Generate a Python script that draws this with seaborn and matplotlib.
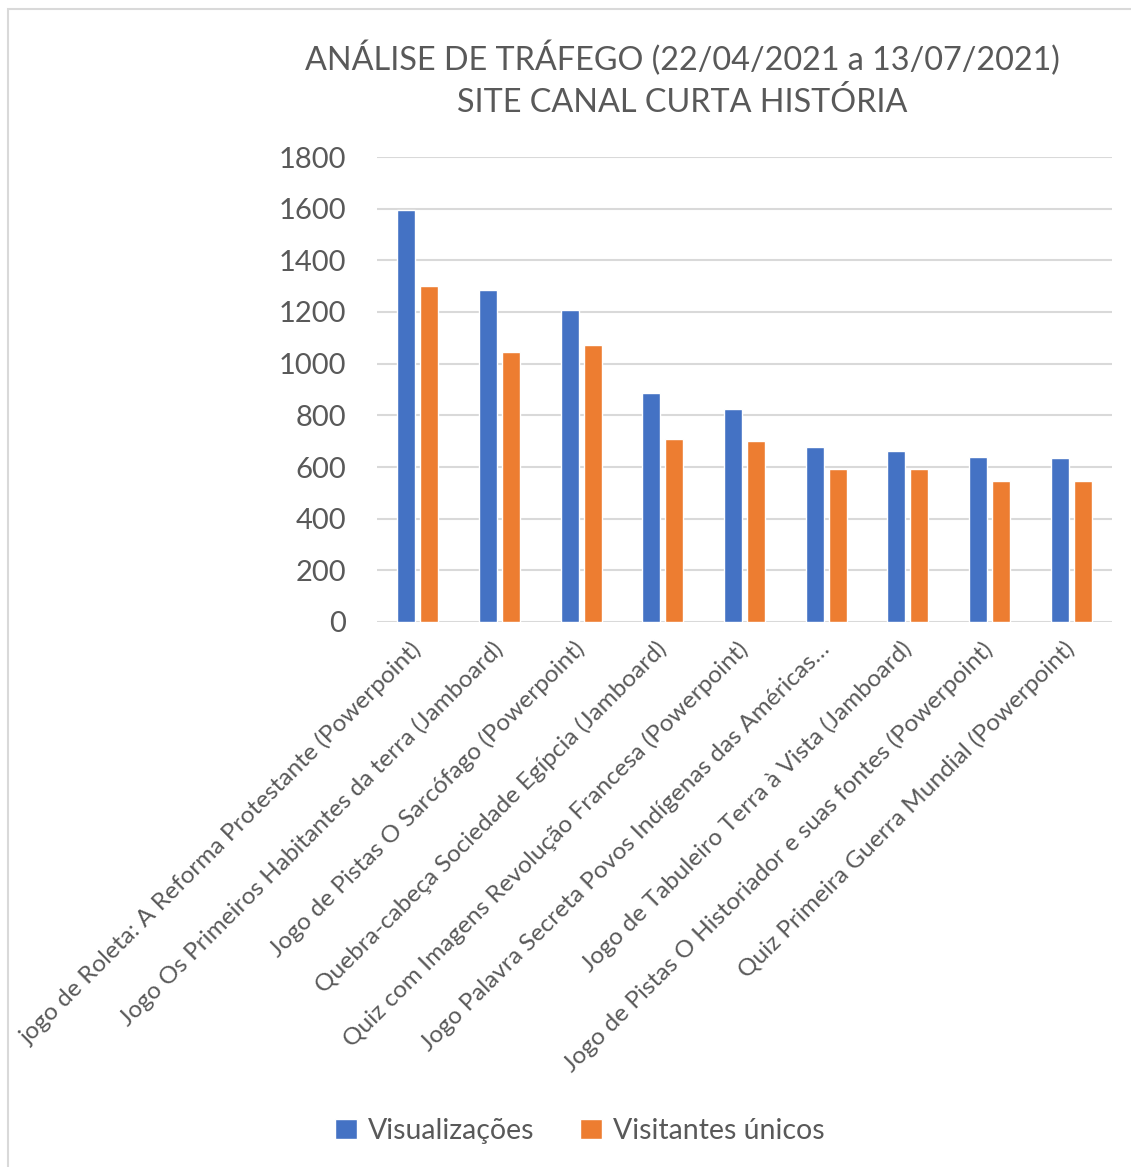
import matplotlib.pyplot as plt
import seaborn as sns
import pandas as pd
from matplotlib.patches import Rectangle

W, H = 1131, 1167

categories = [
    "jogo de Roleta: A Reforma Protestante (Powerpoint)",
    "Jogo Os Primeiros Habitantes da terra (Jamboard)",
    "Jogo de Pistas O Sarcófago (Powerpoint)",
    "Quebra-cabeça Sociedade Egípcia (Jamboard)",
    "Quiz com Imagens Revolução Francesa (Powerpoint)",
    "Jogo Palavra Secreta Povos Indígenas das Américas…",
    "Jogo de Tabuleiro Terra à Vista (Jamboard)",
    "Jogo de Pistas O Historiador e suas fontes (Powerpoint)",
    "Quiz Primeira Guerra Mundial (Powerpoint)",
]
visualizacoes = [1593, 1287, 1207, 887, 823, 679, 663, 640, 635]
visitantes = [1300, 1046, 1073, 710, 702, 593, 593, 544, 545]
series = ["Visualizações", "Visitantes únicos"]
colors = ["#4472C4", "#ED7D31"]
yticks = [0, 200, 400, 600, 800, 1000, 1200, 1400, 1600, 1800]

df = pd.DataFrame({"cat": categories, series[0]: visualizacoes, series[1]: visitantes})
df = df.melt(id_vars="cat", var_name="serie", value_name="valor")

sns.set_theme(style="white")
plt.rcParams['font.family'] = ['Lato', 'DejaVu Sans']
txt = "#595959"

fig = plt.figure(figsize=(W / 100, H / 100), dpi=100)
ax = fig.add_axes([377 / W, 1 - 622 / H, 735 / W, (622 - 157) / H])

sns.barplot(data=df, x="cat", y="valor", hue="serie", palette=colors,
            width=0.56, gap=0.21, ax=ax, legend=True, saturation=1)

ax.set_ylim(0, 1800)
ax.set_yticks(yticks)
ax.set_xlim(-0.5, len(categories) - 0.5)
ax.yaxis.grid(True, color="#D9D9D9", linewidth=1.5)
ax.set_axisbelow(True)
for s in ax.spines.values():
    s.set_visible(False)
ax.set_xlabel("")
ax.set_ylabel("")
ax.tick_params(axis="y", length=0, pad=22, labelsize=21, labelcolor=txt)
ax.tick_params(axis="x", length=0, pad=17, labelcolor=txt)
ax.set_xticks(range(len(categories)))
ax.set_xticklabels(categories, rotation=45, ha="right", va="center",
                   rotation_mode="anchor", fontsize=17.6, color=txt)

handles, labels = ax.get_legend_handles_labels()
ax.get_legend().remove()
fig.legend(handles, labels, loc="center", bbox_to_anchor=(580 / W, 1 - 1131 / H),
           ncol=2, frameon=False, fontsize=20.5, labelcolor=txt,
           handlelength=0.75, handleheight=0.75, handletextpad=0.4, columnspacing=1.6)

fig.text(682 / W, 1 - 58 / H, "ANÁLISE DE TRÁFEGO (22/04/2021 a 13/07/2021)",
         ha="center", va="center", fontsize=23.3, color=txt)
fig.text(682 / W, 1 - 103 / H, "SITE CANAL CURTA HISTÓRIA",
         ha="center", va="center", fontsize=23.3, color=txt)

# chart area border (only top and left edges are visible)
fig.patches.append(Rectangle((8 / W, -0.1), 1.2, 1 - 9 / H + 0.1, transform=fig.transFigure,
                             fill=False, edgecolor="#D9D9D9", linewidth=1.5))

fig.savefig("out.png", dpi=100)
